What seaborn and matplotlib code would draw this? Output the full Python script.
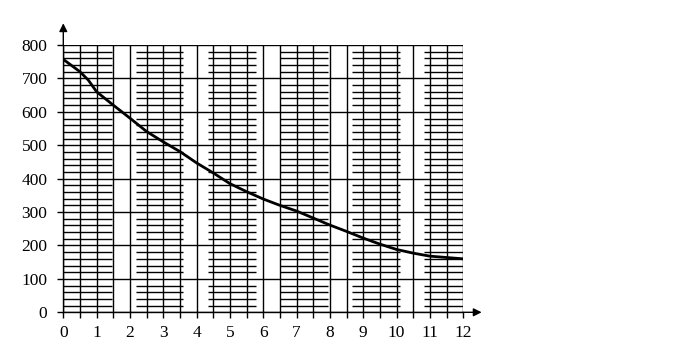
import matplotlib
matplotlib.use("Agg")
import matplotlib.pyplot as plt
import seaborn as sns
import numpy as np
import pandas as pd

# Data
x_vals = [0, 0.5, 0.75, 1, 1.5, 2, 2.5, 3, 3.5, 4, 4.5, 5, 5.5, 6, 6.5, 7,
          7.5, 8, 8.5, 9, 9.5, 10, 10.5, 11, 11.5, 12]
y_vals = [757, 720, 695, 660, 620, 581, 541, 510, 481, 447, 417, 385, 361, 339,
          320, 303, 282, 261, 242, 222, 204, 188, 177, 168, 164, 160]
x_ticks = list(range(0, 13))
y_ticks = list(range(0, 900, 100))
band_starts = [0, 2.18, 4.35, 6.5, 8.65, 10.82]
band_ends = [1.45, 3.6, 5.78, 7.93, 10.1, 12]

sns.set_style("white")
plt.rcParams['font.family'] = ['Liberation Serif', 'DejaVu Serif']

fig = plt.figure(figsize=(6.98, 3.47), dpi=100)
ax = fig.add_axes([63.3/698, 1-312.3/347, 400/698, 267.3/347])

df = pd.DataFrame({"x": x_vals, "y": y_vals})

# grid: verticals every 0.5
for xv in np.arange(0, 12.01, 0.5):
    ax.axvline(xv, color='black', lw=1.0, zorder=1)
# full horizontals every 100
for yv in y_ticks:
    ax.axhline(yv, color='black', lw=1.0, zorder=1)
# hatching in bands every 20
hy = [v for v in range(20, 800, 20) if v % 100 != 0]
for s, e in zip(band_starts, band_ends):
    ax.hlines(hy, s, e, color='black', lw=1.0, zorder=1)

sns.lineplot(data=df, x="x", y="y", ax=ax, color='black', lw=2.0, zorder=3)

ax.set_xlim(0, 12)
ax.set_ylim(0, 800)
ax.set_xticks(x_ticks)
ax.set_xticks(np.arange(0.5, 12, 1), minor=True)
ax.set_yticks(y_ticks)
ax.set_xlabel("")
ax.set_ylabel("")
ax.tick_params(axis='both', which='both', direction='out', length=4.5, width=1.0,
               color='black', labelsize=12.5, labelcolor='black')
ax.tick_params(axis='x', which='both', bottom=True, pad=5)
ax.tick_params(axis='y', left=True, pad=7)
for sp in ['top', 'right']:
    ax.spines[sp].set_visible(False)
for sp in ['left', 'bottom']:
    ax.spines[sp].set_color('black')
    ax.spines[sp].set_linewidth(1.0)

# axis arrows
ax.annotate('', xy=(0, 865), xytext=(0, 800), xycoords='data',
            arrowprops=dict(arrowstyle='-|>', color='black', lw=1.0,
                            mutation_scale=12, shrinkA=0, shrinkB=0),
            annotation_clip=False)
ax.annotate('', xy=(12.55, 0), xytext=(12, 0), xycoords='data',
            arrowprops=dict(arrowstyle='-|>', color='black', lw=1.0,
                            mutation_scale=12, shrinkA=0, shrinkB=0),
            annotation_clip=False)

fig.savefig("out.png", dpi=100)
